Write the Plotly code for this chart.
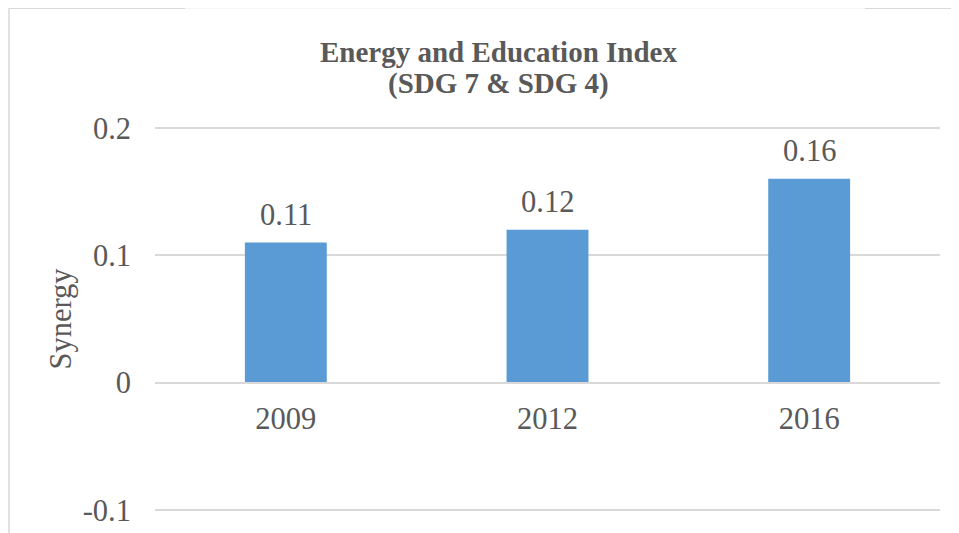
import plotly.graph_objects as go

years = ["2009", "2012", "2016"]
synergy = [0.11, 0.12, 0.16]
labels = ["0.11", "0.12", "0.16"]
y_tickvals = [-0.1, 0, 0.1, 0.2]
y_ticktext = ["-0.1", "0", "0.1", "0.2"]
title_lines = ["Energy and Education Index", "(SDG 7 & SDG 4)"]

# the page body adds an 8px offset; figure coordinates below are page pixels minus 8
OFF = 8
W, H = 959 - OFF, 533 - OFF
PAD = 0.0015
UNIT = 1274.0  # pixels per 1.0 on y
L = 155 - OFF
R = W - (940 - OFF)
T = (128.3 - OFF) - PAD * UNIT
B = H - ((510 - OFF) + PAD * UNIT)
PW, PH = W - L - R, H - T - B

def px(x):
    return (x - OFF - L) / PW

def py(y):
    return (H - B - (y - OFF)) / PH

FONT = "Liberation Serif, Times New Roman, serif"
TXT = "#595959"
GRID = "#d9d9d9"
FS = 30.5

idx = list(range(len(years)))

fig = go.Figure()
fig.add_trace(go.Bar(x=idx, y=synergy, marker_color="#5B9BD5",
                     marker_line_width=0, hoverinfo="skip"))

for i, v, t in zip(idx, synergy, labels):
    fig.add_annotation(x=i, y=v, text=t, showarrow=False, yanchor="bottom",
                       yshift=9, font=dict(family=FONT, size=FS, color=TXT))

for line, ymid in zip(title_lines, [52.5, 84]):
    fig.add_annotation(xref="paper", yref="paper", x=px(498.5), y=py(ymid),
                       xanchor="center", yanchor="middle", showarrow=False,
                       text="<b>" + line + "</b>",
                       font=dict(family=FONT, size=29, color=TXT))

shapes = [
    dict(type="line", xref="paper", yref="paper", x0=px(9), x1=px(9), y0=py(8.5), y1=py(540),
         line=dict(color=GRID, width=1.5)),
    dict(type="line", xref="paper", yref="paper", x0=px(9), x1=px(185), y0=py(8.7), y1=py(8.7),
         line=dict(color=GRID, width=1.5)),
    dict(type="line", xref="paper", yref="paper", x0=px(185), x1=px(865), y0=py(8.7), y1=py(8.7),
         line=dict(color="#f0f0f0", width=1)),
    dict(type="line", xref="paper", yref="paper", x0=px(865), x1=px(970), y0=py(8.7), y1=py(8.7),
         line=dict(color=GRID, width=1.5)),
]

fig.update_layout(
    width=W, height=H,
    margin=dict(l=L, r=R, t=T, b=B, pad=0, autoexpand=False),
    paper_bgcolor="white", plot_bgcolor="white",
    bargap=0.687,
    showlegend=False,
    shapes=shapes,
    font=dict(family=FONT, color=TXT, size=FS),
    xaxis=dict(range=[-0.5, len(years) - 0.5], tickvals=idx, ticktext=years,
               anchor="free", position=py(383), showline=True,
               linecolor=GRID, linewidth=1.5, automargin=False,
               showgrid=False, ticks="", tickfont=dict(family=FONT, size=FS, color=TXT),
               ticklabelstandoff=9, zeroline=False),
    yaxis=dict(range=[-0.1 - PAD, 0.2 + PAD], tickvals=y_tickvals, ticktext=y_ticktext,
               showgrid=True, gridcolor=GRID, gridwidth=1.5, zeroline=False, showline=False,
               ticks="", ticklabelstandoff=23, automargin=False,
               tickfont=dict(family=FONT, size=FS, color=TXT),
               title=dict(text="Synergy", standoff=2, font=dict(family=FONT, size=FS, color=TXT))),
)

fig.write_html("out.html")
